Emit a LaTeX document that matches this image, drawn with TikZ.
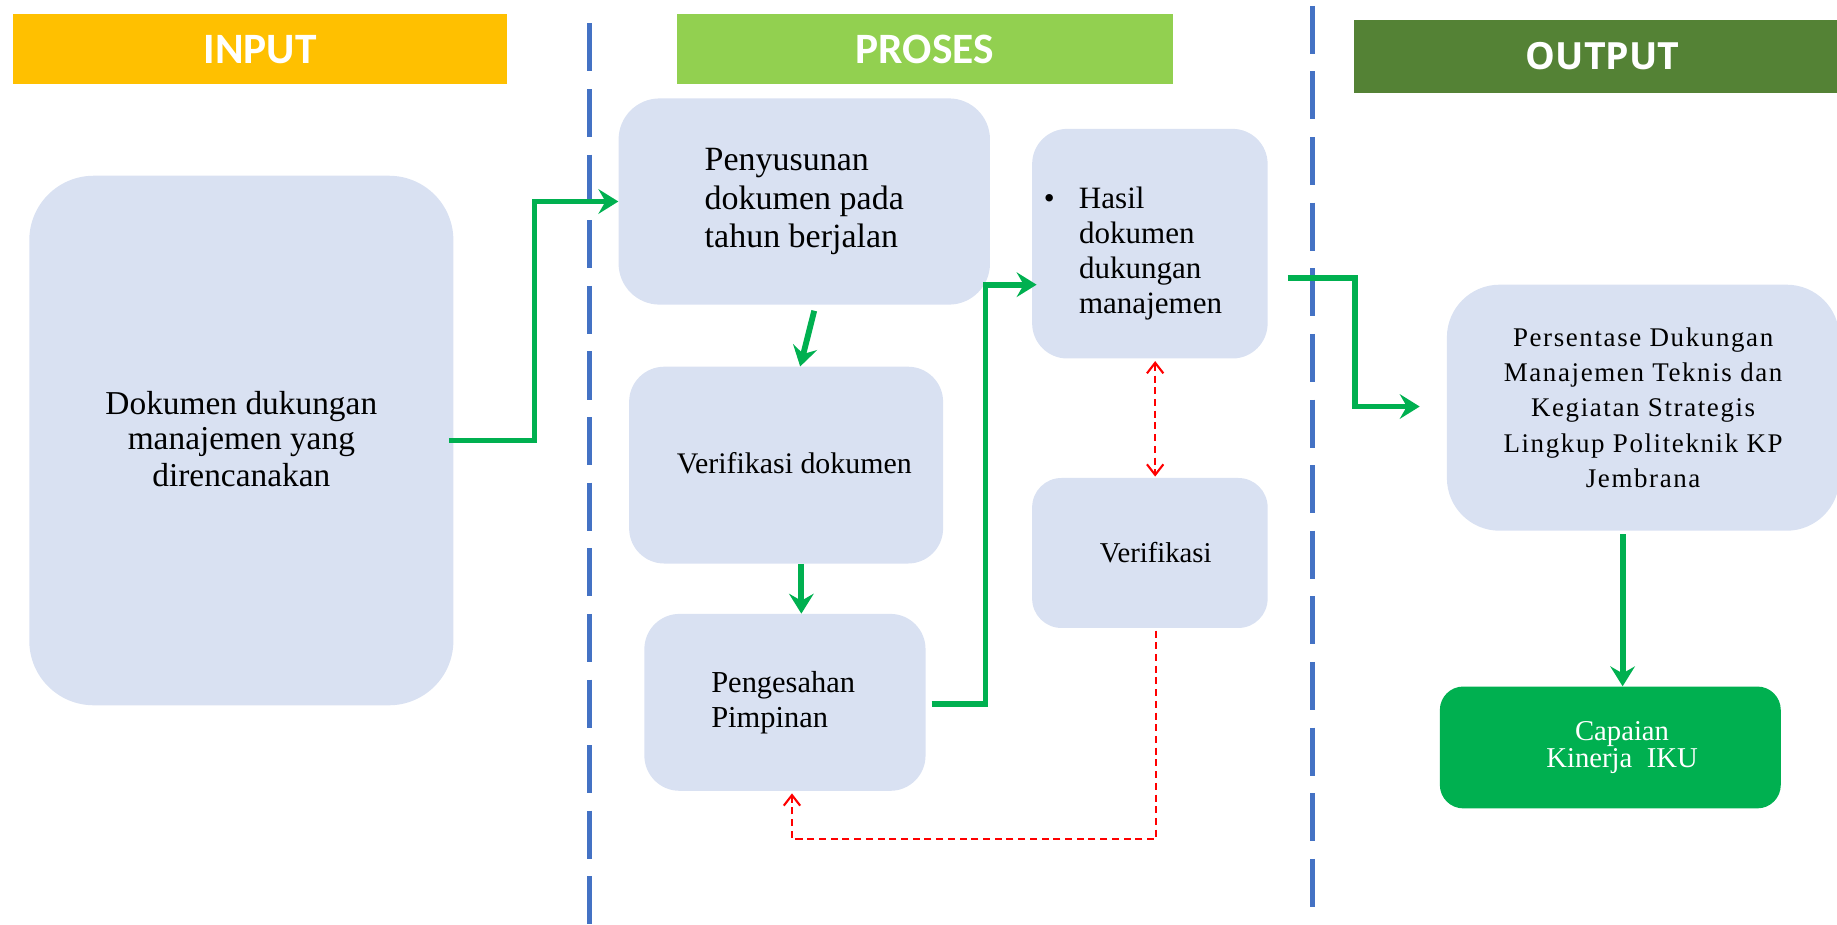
\documentclass[tikz,border=0pt]{standalone}
\usepackage{fontspec}
\setmainfont{Liberation Serif}
\newfontfamily\hdfont{Carlito}
\newfontfamily\outfont{Open Sans}
\newfontfamily\widefont[LetterSpace=6]{Liberation Serif}
\usetikzlibrary{arrows.meta,calc}
\definecolor{boxfill}{RGB}{217,225,242}
\definecolor{arrgreen}{RGB}{0,176,80}
\definecolor{sepblue}{RGB}{68,114,196}
\definecolor{inyellow}{RGB}{255,192,0}
\definecolor{prgreen}{RGB}{146,208,80}
\definecolor{outgreen}{RGB}{84,130,53}
\tikzset{
  box/.style={rectangle, fill=boxfill, draw=none, inner sep=0pt},
  bar/.style={rectangle, inner sep=0pt, text=white},
  garrow/.style={draw=arrgreen, line width=5pt, line join=miter, -{Stealth[length=17pt,width=21pt,inset=6pt]}},
  rarrow/.style={draw=red, line width=1.8pt, dash pattern=on 6pt off 4pt, -{Straight Barb[length=9pt,width=14pt]}},
  rdouble/.style={draw=red, line width=1.8pt, dash pattern=on 6pt off 4pt, {Straight Barb[length=9pt,width=14pt]}-{Straight Barb[length=9pt,width=14pt]}},
  sep/.style={draw=sepblue, line width=4pt, dash pattern=on 41pt off 15pt},
}
\begin{document}
\begin{tikzpicture}[x=1pt,y=-1pt]
\useasboundingbox (0,0) rectangle (1568,789);
% header bars
\node[bar, fill=inyellow, minimum width=422pt, minimum height=60pt, font=\hdfont\bfseries\fontsize{37pt}{40pt}\selectfont] (hin) at (222,42) {INPUT};
\node[bar, fill=prgreen, minimum width=423pt, minimum height=60pt, font=\hdfont\bfseries\fontsize{37pt}{40pt}\selectfont] (hpr) at (789.5,42) {PROSES};
\node[bar, fill=outgreen, minimum width=414pt, minimum height=62pt, font=\outfont\bfseries\fontsize{32pt}{36pt}\selectfont] (hout) at (1363,48) {\hspace*{10pt}OUTPUT};
% separators
\draw[sep] (503,20) -- (503,789);
\draw[sep] (1120,5) -- (1120,776);
% boxes
\node[box, rounded corners=55pt, minimum width=362pt, minimum height=452pt, align=center,
      font=\fontsize{28.5pt}{32pt}\selectfont] (dok) at (206,376)
      {\raisebox{3pt}{\shortstack{Dokumen dukungan\\[2pt]manajemen yang\\[2pt]direncanakan}}};
\node[box, rounded corners=35pt, minimum width=317pt, minimum height=176pt, align=left,
      font=\fontsize{29pt}{33pt}\selectfont] (peny) at (686.5,172)
      {Penyusunan\\dokumen pada\\tahun berjalan};
\node[box, rounded corners=30pt, minimum width=201pt, minimum height=196pt, text width=181pt, align=left,
      font=\fontsize{26.5pt}{30pt}\selectfont] (hasil) at (981.5,208)
      {\rule{0pt}{35pt}\makebox[30pt][l]{\textbullet}Hasil\\\hspace*{30pt}dokumen\\\hspace*{30pt}dukungan\\\hspace*{30pt}manajemen};
\node[box, rounded corners=30pt, minimum width=268pt, minimum height=168pt, align=center,
      font=\fontsize{25.5pt}{30pt}\selectfont] (verd) at (671,397)
      {\raisebox{4pt}{\hspace*{14pt}Verifikasi dokumen}};
\node[box, rounded corners=25pt, minimum width=201pt, minimum height=128pt, align=center,
      font=\fontsize{24.5pt}{30pt}\selectfont] (ver) at (981.5,472)
      {\hspace*{10pt}Verifikasi};
\node[box, rounded corners=30pt, minimum width=240pt, minimum height=151pt, align=left,
      font=\fontsize{26pt}{30pt}\selectfont] (peng) at (670,599.5)
      {Pengesahan\hspace*{3pt}\\Pimpinan};
\node[box, rounded corners=45pt, minimum width=335pt, minimum height=210pt, align=center,
      font=\widefont\fontsize{23pt}{30pt}\selectfont] (pers) at (1402.5,348)
      {Persentase Dukungan\\Manajemen Teknis dan\\Kegiatan Strategis\\Lingkup Politeknik KP\\Jembrana};
\node[box, fill=arrgreen, rounded corners=20pt, minimum width=291pt, minimum height=104pt, align=center, text=white,
      font=\fontsize{24.5pt}{20pt}\selectfont] (cap) at (1374.5,638)
      {\hspace*{20pt}Capaian\\\hspace*{20pt}Kinerja\ \ IKU};
% green connectors
\draw[garrow] ([xshift=-4pt]dok.east) -- ++(73,0) |- (peny.west);
\draw[garrow] ([xshift=8.5pt,yshift=-5pt]peny.south) -- ([xshift=12pt]verd.north);
\draw[garrow] ([xshift=13pt]verd.south) -- ([xshift=13pt]verd.south |- peng.north);
\draw[garrow] ([xshift=5pt,yshift=-1.5pt]peng.east) -- ++(46,0) |- ([xshift=4pt,yshift=-35pt]hasil.west);
\draw[garrow] ([xshift=17pt,yshift=-29pt]hasil.east) -- ++(57,0) |- ([xshift=-23pt,yshift=1pt]pers.west);
\draw[garrow] ([xshift=-17.5pt,yshift=-3pt]pers.south) -- ([xshift=-17.5pt]pers.south |- cap.north);
% red dashed connectors
\draw[rdouble] ([xshift=4.5pt,yshift=-2pt]hasil.south) -- ([xshift=4.5pt,yshift=1pt]hasil.south |- ver.north);
\draw[rarrow] ([xshift=5.5pt,yshift=-2pt]ver.south) -- ++(0,178) -| ([xshift=6pt,yshift=-2pt]peng.south);
\end{tikzpicture}
\end{document}
